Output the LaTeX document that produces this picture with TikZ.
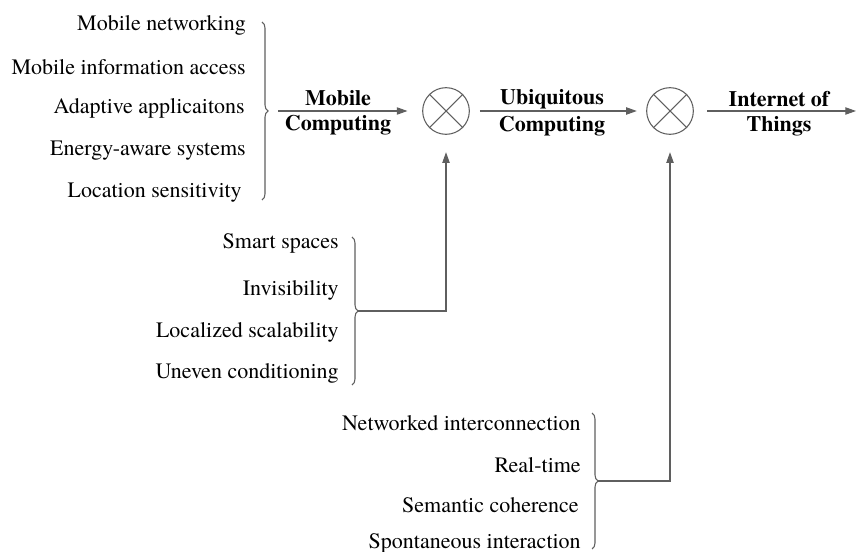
\documentclass[tikz,border=0pt]{standalone}
\usepackage{fontspec}
\setmainfont{TeX Gyre Termes}
\usetikzlibrary{positioning, arrows.meta, decorations, decorations.pathreplacing}

\definecolor{linegray}{RGB}{95,95,95}
\tikzset{
  item/.style={anchor=east, inner sep=0.75pt, font=\rmfamily\fontsize{16.5}{19}\selectfont},
  flowlabel/.style={inner sep=0.75pt, font=\rmfamily\fontsize{16.5}{19}\selectfont\bfseries},
  mixer/.style={draw=linegray, circle, minimum size=35pt, inner sep=0pt, line width=0.8pt},
  bracket/.style={draw=linegray, line width=0.8pt, decorate, decoration={brace, amplitude=4.5pt}},
  link/.style={draw=linegray, line width=0.8pt, -{Triangle[length=8pt,width=5.5pt]}}
}

\begin{document}
\begin{tikzpicture}[x=0.75pt,y=0.75pt,yscale=-1,xscale=1]
    \useasboundingbox (0,0) rectangle (856,552);

    % Text Node
    \node[item] (mnet) at (247,25) {Mobile networking};
    % Text Node
    \node[item] (minfo) at (247,67) {Mobile information access};
    % Text Node
    \node[item] (adapt) at (246,108) {Adaptive applicaitons};
    % Text Node
    \node[item] (energy) at (247,151) {Energy-aware systems};
    % Text Node
    \node[item] (locsens) at (243,193) {Location sensitivity};

    % Text Node
    \node[item] (smart) at (340,243) {Smart spaces};
    % Text Node
    \node[item] (invis) at (340,290) {Invisibility};
    % Text Node
    \node[item] (locscal) at (340,332) {Localized scalability};
    % Text Node
    \node[item] (uneven) at (340,373) {Uneven conditioning};

    % Text Node
    \node[item] (netint) at (582,423) {Networked interconnection};
    % Text Node
    \node[item] (realtime) at (582,465) {Real-time};
    % Text Node
    \node[item] (semcoh) at (580,505) {Semantic coherence};
    % Text Node
    \node[item] (spont) at (582,543) {Spontaneous interaction};

    % Braces
    \draw[bracket] (262,22) -- (262,200);
    \coordinate (b1) at (268,111);
    \draw[bracket] (352,237) -- (352,385);
    \coordinate (b2) at (358,311);
    \draw[bracket] (592,413) -- (592,549);
    \coordinate (b3) at (598,481);

    % Circles
    \node[mixer] (m1) at (446,111) {};
    \draw[linegray, line width=0.8pt] (m1.north east) -- (m1.south west) (m1.north west) -- (m1.south east);
    \node[mixer] (m2) at (670,111) {};
    \draw[linegray, line width=0.8pt] (m2.north east) -- (m2.south west) (m2.north west) -- (m2.south east);
    \coordinate (out) at (856,111);

    % Straight Lines
    \draw[link, shorten <=7.5pt, shorten >=11pt] (b1) -- (m1);
    \draw[link, shorten <=7.5pt, shorten >=7pt] (m1) -- (m2);
    \draw[link, shorten <=10pt] (m2) -- (out);
    \draw[link, shorten >=13pt] (b2) -| (m1.south);
    \draw[link, shorten >=13pt] (b3) -| (m2.south);

    % Text Node
    \node[flowlabel] (mob) at (338,98) {Mobile};
    \node[flowlabel] (mobc) at (338,125) {Computing};
    % Text Node
    \node[flowlabel] (ubi) at (552,99) {Ubiquitous};
    \node[flowlabel] (ubic) at (552,126) {Computing};
    % Text Node
    \node[flowlabel] (iot) at (779,99) {Internet of};
    \node[flowlabel] (iott) at (779,126) {Things};
\end{tikzpicture}
\end{document}
